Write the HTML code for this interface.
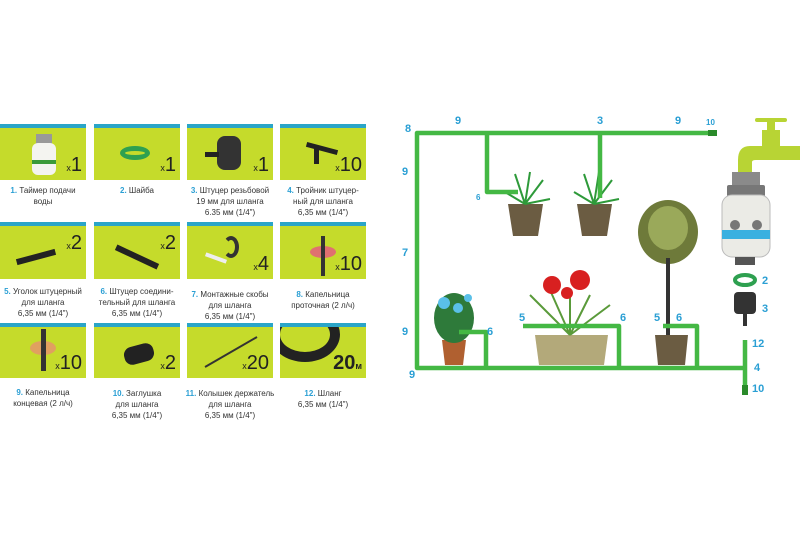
<!DOCTYPE html>
<html><head><meta charset="utf-8"><style>
body{margin:0;background:#fff;width:800px;height:533px;overflow:hidden;font-family:"Liberation Sans","DejaVu Sans",sans-serif}
.c{position:absolute;background:#c5db2b;border-top:4px solid #2aa5c8;box-sizing:border-box}
.x{position:absolute;right:4px;bottom:3px;font-size:20px;color:#222}
.x small{font-size:9px}
.l{position:absolute;font-size:8px;line-height:11px;color:#333;text-align:center;width:92px}
.l b{color:#2a9fd4;font-weight:bold}
</style></head><body>
<div class="c" style="left:0;top:124px;width:86px;height:56px"><div class="x"><small>x</small>1</div>
<div style="position:absolute;left:36px;top:6px;width:16px;height:10px;background:#999"></div><div style="position:absolute;left:32px;top:15px;width:24px;height:32px;background:#f4f4f0;border-radius:6px"></div><div style="position:absolute;left:32px;top:32px;width:24px;height:4px;background:#3a9a3a"></div></div>
<div class="c" style="left:94px;top:124px;width:86px;height:56px"><div class="x"><small>x</small>1</div><div style="position:absolute;left:26px;top:18px;height:14px;border:5px solid #2ea050;border-radius:50%;box-sizing:border-box;width:30px"></div></div>
<div class="c" style="left:187px;top:124px;width:86px;height:56px"><div class="x"><small>x</small>1</div><div style="position:absolute;left:30px;top:8px;width:24px;height:34px;background:#333;border-radius:8px"></div><div style="position:absolute;left:18px;top:24px;width:14px;height:5px;background:#222"></div></div>
<div class="c" style="left:280px;top:124px;width:86px;height:56px"><div class="x"><small>x</small>10</div><div style="position:absolute;left:26px;top:18px;width:32px;height:5px;background:#222;transform:rotate(15deg)"></div><div style="position:absolute;left:34px;top:20px;width:5px;height:16px;background:#222"></div></div>
<div class="l" style="left:-3px;top:185px"><b>1.</b> Таймер подачи<br>воды</div>
<div class="l" style="left:91px;top:185px"><b>2.</b> Шайба</div>
<div class="l" style="left:184px;top:185px"><b>3.</b> Штуцер резьбовой<br>19 мм для шланга<br>6.35 мм (1/4")</div>
<div class="l" style="left:277px;top:185px"><b>4.</b> Тройник штуцер-<br>ный для шланга<br>6,35 мм (1/4")</div>
<div class="c" style="left:0;top:222px;width:86px;height:57px"><div class="x" style="top:6px;bottom:auto"><small>x</small>2</div><div style="position:absolute;left:16px;top:28px;width:40px;height:6px;background:#222;transform:rotate(-15deg)"></div></div>
<div class="c" style="left:94px;top:222px;width:86px;height:57px"><div class="x" style="top:6px;bottom:auto"><small>x</small>2</div><div style="position:absolute;left:20px;top:28px;width:46px;height:6px;background:#222;transform:rotate(25deg)"></div></div>
<div class="c" style="left:187px;top:222px;width:86px;height:57px"><div class="x"><small>x</small>4</div><div style="position:absolute;left:36px;top:10px;width:16px;height:22px;border:4px solid #333;border-radius:50%;border-left-color:transparent;box-sizing:border-box"></div><div style="position:absolute;left:18px;top:30px;width:22px;height:4px;background:#eee;transform:rotate(20deg)"></div></div>
<div class="c" style="left:280px;top:222px;width:86px;height:57px"><div class="x"><small>x</small>10</div><div style="position:absolute;left:30px;top:20px;width:26px;height:12px;background:#e07070;border-radius:50%"></div><div style="position:absolute;left:41px;top:10px;width:4px;height:40px;background:#333"></div></div>
<div class="l" style="left:-3px;top:286px"><b>5.</b> Уголок штуцерный<br>для шланга<br>6,35 мм (1/4")</div>
<div class="l" style="left:91px;top:286px"><b>6.</b> Штуцер соедини-<br>тельный для шланга<br>6,35 мм (1/4")</div>
<div class="l" style="left:184px;top:289px"><b>7.</b> Монтажные скобы<br>для шланга<br>6,35 мм (1/4")</div>
<div class="l" style="left:277px;top:289px"><b>8.</b> Капельница<br>проточная (2 л/ч)</div>
<div class="c" style="left:0;top:323px;width:86px;height:55px"><div class="x"><small>x</small>10</div><div style="position:absolute;left:30px;top:14px;width:26px;height:14px;background:#e0a060;border-radius:50%"></div><div style="position:absolute;left:41px;top:2px;width:5px;height:42px;background:#333"></div></div>
<div class="c" style="left:94px;top:323px;width:86px;height:55px"><div class="x"><small>x</small>2</div><div style="position:absolute;left:30px;top:18px;width:30px;height:18px;background:#222;border-radius:8px;transform:rotate(-15deg)"></div></div>
<div class="c" style="left:187px;top:323px;width:86px;height:55px"><div class="x"><small>x</small>20</div><div style="position:absolute;left:14px;top:24px;width:60px;height:2px;background:#333;transform:rotate(-30deg)"></div></div>
<div class="c" style="left:280px;top:323px;width:86px;height:55px;overflow:hidden"><div class="x" style="font-weight:bold">20<small>м</small></div><div style="position:absolute;left:-10px;top:-20px;width:70px;height:55px;border:10px solid #222;border-radius:50%;box-sizing:border-box"></div></div>
<div class="l" style="left:-3px;top:387px"><b>9.</b> Капельница<br>концевая (2 л/ч)</div>
<div class="l" style="left:91px;top:388px"><b>10.</b> Заглушка<br>для шланга<br>6,35 мм (1/4")</div>
<div class="l" style="left:184px;top:388px"><b>11.</b> Колышек держатель<br>для шланга<br>6,35 мм (1/4")</div>
<div class="l" style="left:277px;top:388px"><b>12.</b> Шланг<br>6,35 мм (1/4")</div>

<svg width="800" height="533" style="position:absolute;left:0;top:0" font-family="Liberation Sans, sans-serif" font-weight="bold" fill="#2a9fd4">
<g>
<path d="M508 204h35l-5 32h-25z" fill="#6b5c42"/><path d="M577 204h35l-5 32h-25z" fill="#6b5c42"/>
<g stroke="#2e9a3a" stroke-width="2" fill="none"><path d="M525 204l-10-30M525 204l5-32M525 204l18-24M525 204l-20-12M525 204l25-5"/><path d="M594 204l-10-30M594 204l5-32M594 204l18-24M594 204l-20-12M594 204l25-5"/></g>
<ellipse cx="668" cy="232" rx="30" ry="32" fill="#6e7a3a"/><ellipse cx="668" cy="228" rx="20" ry="22" fill="#9aa95a"/>
<rect x="666" y="258" width="4" height="80" fill="#333"/>
<path d="M655 335h33l-3 30h-27z" fill="#6b5c42"/>
<path d="M535 335h73l-4 30h-65z" fill="#b3a97a"/>
<g stroke="#5a9a3a" stroke-width="2" fill="none"><path d="M570 335l-40-40M570 335l-20-45M570 335l40-30M570 335l20-40M570 335l0-45"/></g>
<circle cx="552" cy="285" r="9" fill="#d82020"/><circle cx="580" cy="280" r="10" fill="#d82020"/><circle cx="567" cy="293" r="6" fill="#d82020"/>
<path d="M442 340h24l-3 25h-18z" fill="#b06030"/>
<ellipse cx="454" cy="318" rx="20" ry="25" fill="#2e7a3a"/><circle cx="444" cy="303" r="6" fill="#5ac0e8"/><circle cx="458" cy="308" r="5" fill="#5ac0e8"/><circle cx="468" cy="298" r="4" fill="#5ac0e8"/>
</g>
<g stroke="#44b844" stroke-width="4.5" fill="none" stroke-linejoin="round">
<path d="M717 133H417V368H745"/>
<path d="M487 133V192H518"/><path d="M600 133V198"/>
<path d="M486 368V332H459"/><path d="M619 368V326H523"/><path d="M697 368V326H663"/>
<path d="M745 340V395"/>
</g>
<rect x="708" y="130" width="9" height="6" fill="#2a8a2a"/><rect x="742" y="385" width="6" height="10" fill="#2a8a2a"/>
<g fill="#b8d434"><rect x="755" y="118" width="32" height="4" rx="2"/><rect x="767" y="122" width="8" height="8"/><rect x="762" y="130" width="18" height="16"/>
<path d="M800 146H750Q738 146 738 160V172H752V162Q752 160 756 160H800z"/></g>
<rect x="732" y="172" width="28" height="14" fill="#8a8a8a"/><rect x="727" y="185" width="38" height="12" rx="2" fill="#777"/>
<rect x="722" y="195" width="48" height="62" rx="10" fill="#ebebe6" stroke="#bbb"/>
<rect x="722" y="230" width="48" height="9" fill="#3ab0e0"/>
<circle cx="735" cy="225" r="5" fill="#777"/><circle cx="757" cy="225" r="5" fill="#777"/>
<rect x="735" y="257" width="20" height="8" fill="#555"/>
<ellipse cx="745" cy="280" rx="10" ry="5" fill="none" stroke="#2ea050" stroke-width="4"/>
<rect x="734" y="292" width="22" height="22" rx="4" fill="#333"/><rect x="743" y="314" width="4" height="12" fill="#333"/>
<g font-size="11">
<text x="405" y="132">8</text><text x="455" y="124">9</text><text x="597" y="124">3</text><text x="675" y="124">9</text>
<text x="402" y="175">9</text><text x="402" y="256">7</text><text x="402" y="335">9</text><text x="409" y="378">9</text>
<text x="487" y="335">6</text><text x="620" y="321">6</text><text x="654" y="321">5</text><text x="676" y="321">6</text><text x="519" y="321">5</text>
<text x="762" y="284">2</text><text x="762" y="312">3</text><text x="752" y="347">12</text><text x="754" y="371">4</text><text x="752" y="392">10</text>
</g>
<g font-size="8"><text x="706" y="125">10</text><text x="476" y="200">6</text></g>
</svg>
</body></html>
